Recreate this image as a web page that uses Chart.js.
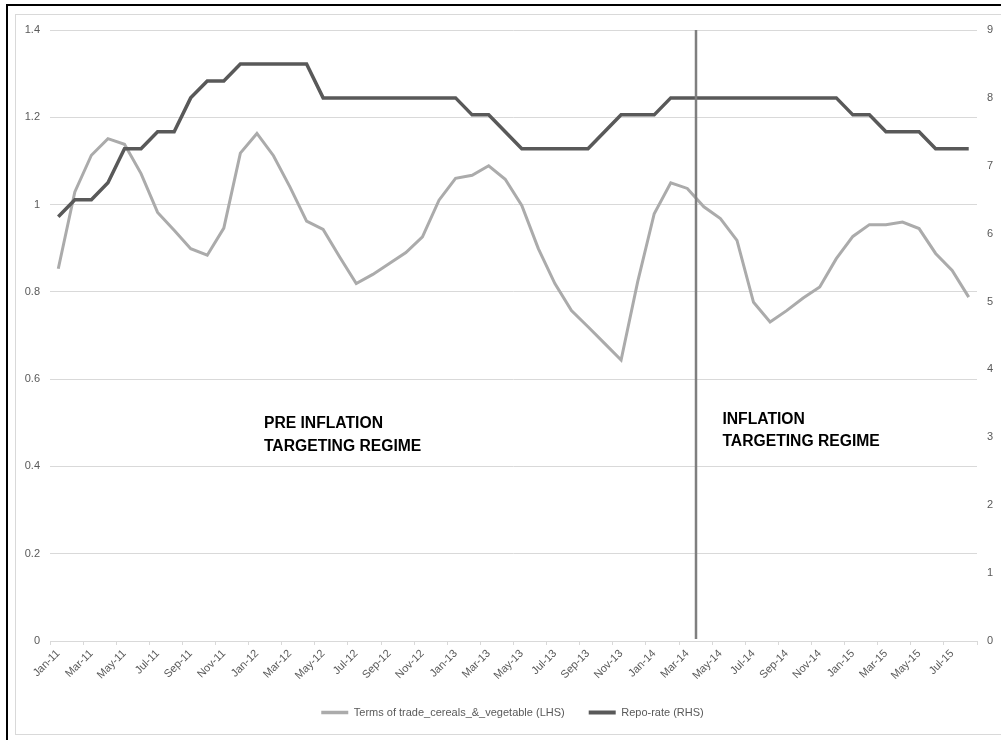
<!DOCTYPE html>
<html>
<head>
<meta charset="utf-8">
<script src="https://cdn.jsdelivr.net/npm/chart.js@4/dist/chart.umd.min.js"></script>
<style>
  html, body { margin: 0; padding: 0; background: #fff; }
  #wrap { width: 1001px; height: 740px; position: relative; }
</style>
</head>
<body>
<div id="wrap"><canvas id="c" width="1001" height="740"></canvas></div>
<script>
const months = [
  'Jan-11','Feb-11','Mar-11','Apr-11','May-11','Jun-11','Jul-11','Aug-11','Sep-11','Oct-11','Nov-11','Dec-11',
  'Jan-12','Feb-12','Mar-12','Apr-12','May-12','Jun-12','Jul-12','Aug-12','Sep-12','Oct-12','Nov-12','Dec-12',
  'Jan-13','Feb-13','Mar-13','Apr-13','May-13','Jun-13','Jul-13','Aug-13','Sep-13','Oct-13','Nov-13','Dec-13',
  'Jan-14','Feb-14','Mar-14','Apr-14','May-14','Jun-14','Jul-14','Aug-14','Sep-14','Oct-14','Nov-14','Dec-14',
  'Jan-15','Feb-15','Mar-15','Apr-15','May-15','Jun-15','Jul-15','Aug-15'
];

const termsOfTrade = [
  0.853, 1.029, 1.113, 1.151, 1.138, 1.071, 0.982, 0.941, 0.899, 0.884,
  0.946, 1.118, 1.163, 1.112, 1.040, 0.962, 0.943, 0.880, 0.819, 0.840,
  0.865, 0.890, 0.926, 1.010, 1.060, 1.067, 1.089, 1.058, 0.998, 0.899,
  0.819, 0.757, 0.720, 0.682, 0.644, 0.823, 0.979, 1.050, 1.037, 0.995,
  0.968, 0.918, 0.776, 0.731, 0.757, 0.786, 0.811, 0.876, 0.927, 0.954,
  0.954, 0.960, 0.945, 0.888, 0.849, 0.788
];

const repoRate = [
  6.25, 6.5, 6.5, 6.75, 7.25, 7.25, 7.5, 7.5, 8.0, 8.25,
  8.25, 8.5, 8.5, 8.5, 8.5, 8.5, 8.0, 8.0, 8.0, 8.0,
  8.0, 8.0, 8.0, 8.0, 8.0, 7.75, 7.75, 7.5, 7.25, 7.25,
  7.25, 7.25, 7.25, 7.5, 7.75, 7.75, 7.75, 8.0, 8.0, 8.0,
  8.0, 8.0, 8.0, 8.0, 8.0, 8.0, 8.0, 8.0, 7.75, 7.75,
  7.5, 7.5, 7.5, 7.25, 7.25, 7.25
];

const leftTicks = { min: 0, max: 1.4, step: 0.2 };
const rightTicks = { min: 0, max: 9, step: 1 };

// Regime boundary: between Mar-14 and Apr-14
const regimeBoundaryAfter = 'Mar-14';

const seriesNames = ['Terms of trade_cereals_&_vegetable (LHS)', 'Repo-rate (RHS)'];
const regimeLabels = [
  { lines: ['PRE INFLATION', 'TARGETING REGIME'], at: 'Jan-12', value: 0.488, dx: 7 },
  { lines: ['INFLATION', 'TARGETING REGIME'], at: 'May-14', value: 0.498, dx: 2 }
];

const TXT = '#595959';
const GRID = '#d9d9d9';
const FONT = '"Liberation Sans", Arial, sans-serif';

const framePlugin = {
  id: 'frame',
  beforeDraw(chart) {
    const ctx = chart.ctx;
    ctx.save();
    ctx.fillStyle = '#fff';
    ctx.fillRect(0, 0, chart.width, chart.height);
    ctx.strokeStyle = '#d9d9d9';
    ctx.lineWidth = 1;
    ctx.strokeRect(15.5, 14.5, chart.width + 10, 720);
    ctx.strokeStyle = '#000';
    ctx.lineWidth = 2;
    ctx.beginPath();
    ctx.moveTo(7, chart.height);
    ctx.lineTo(7, 5);
    ctx.lineTo(chart.width, 5);
    ctx.stroke();
    ctx.restore();
  }
};

const regimePlugin = {
  id: 'regime',
  afterDatasetsDraw(chart) {
    const ctx = chart.ctx;
    const xs = chart.scales.x;
    const ys = chart.scales.y;
    const idx = months.indexOf(regimeBoundaryAfter) + 0.5;
    const px = Math.round(xs.getPixelForValue(idx));
    ctx.save();
    ctx.strokeStyle = '#7f7f7f';
    ctx.lineWidth = 2.5;
    ctx.beginPath();
    ctx.moveTo(px, chart.chartArea.top);
    ctx.lineTo(px, chart.chartArea.bottom - 2);
    ctx.stroke();

    ctx.fillStyle = '#000';
    ctx.font = 'bold 16px ' + FONT;
    ctx.textBaseline = 'alphabetic';
    ctx.textAlign = 'left';
    regimeLabels.forEach(r => {
      const x0 = xs.getPixelForValue(months.indexOf(r.at)) + r.dx;
      const y0 = ys.getPixelForValue(r.value);
      r.lines.forEach((ln, k) => {
        ctx.save();
        ctx.translate(x0, y0 + k * 22.7);
        ctx.scale(0.98, 1);
        ctx.fillText(ln, 0, 0);
        ctx.restore();
      });
    });
    ctx.restore();
  }
};

new Chart(document.getElementById('c'), {
  type: 'line',
  data: {
    labels: months,
    datasets: [
      {
        label: seriesNames[0],
        data: termsOfTrade,
        yAxisID: 'y',
        borderColor: '#ababab',
        backgroundColor: '#ababab',
        borderWidth: 3,
        pointRadius: 0,
        tension: 0,
        order: 1
      },
      {
        label: seriesNames[1],
        data: repoRate,
        yAxisID: 'y1',
        borderColor: '#595959',
        backgroundColor: '#595959',
        borderWidth: 3.5,
        pointRadius: 0,
        tension: 0,
        order: 0
      }
    ]
  },
  options: {
    responsive: false,
    animation: false,
    layout: { padding: { top: 30, left: 24, right: 0, bottom: 12 } },
    plugins: {
      tooltip: { enabled: false },
      legend: {
        position: 'bottom',
        labels: {
          usePointStyle: true,
          pointStyle: 'line',
          pointStyleWidth: 27,
          boxHeight: 3,
          padding: 24,
          color: TXT,
          font: { family: FONT, size: 11 },
          sort: (a, b) => a.datasetIndex - b.datasetIndex,
          generateLabels(chart) {
            const items = Chart.defaults.plugins.legend.labels.generateLabels(chart);
            items.forEach(it => {
              const ds = chart.data.datasets[it.datasetIndex];
              it.lineWidth = ds.borderWidth + 0.5;
              it.strokeStyle = ds.borderColor;
              it.pointStyle = 'line';
            });
            return items;
          }
        }
      }
    },
    scales: {
      x: {
        type: 'category',
        offset: true,
        grid: {
          offset: true,
          drawOnChartArea: false,
          drawTicks: true,
          tickLength: 4,
          tickColor: (c) => (c.index === undefined || c.index % 2 === 0) ? GRID : 'rgba(0,0,0,0)'
        },
        border: { display: true, color: GRID, width: 1 },
        ticks: {
          autoSkip: false,
          maxRotation: 45,
          minRotation: 45,
          padding: 2,
          color: TXT,
          font: { family: FONT, size: 11 },
          callback: (v, i) => (i % 2 === 0 ? months[i] : '')
        },
        afterFit: (s) => { s.height = 42; }
      },
      y: {
        position: 'left',
        min: leftTicks.min,
        max: leftTicks.max,
        ticks: {
          stepSize: leftTicks.step,
          padding: 10,
          color: TXT,
          font: { family: FONT, size: 11 },
          callback: (v) => String(Number(v.toFixed(1)))
        },
        grid: { color: GRID, drawTicks: false, lineWidth: 1 },
        border: { display: false },
        afterFit: (s) => { s.width = 26; }
      },
      y1: {
        position: 'right',
        min: rightTicks.min,
        max: rightTicks.max,
        ticks: {
          stepSize: rightTicks.step,
          padding: 10,
          color: TXT,
          font: { family: FONT, size: 11 }
        },
        grid: { drawOnChartArea: false, drawTicks: false },
        border: { display: false },
        afterFit: (s) => { s.width = 24; }
      }
    }
  },
  plugins: [framePlugin, regimePlugin]
});
</script>
</body>
</html>
